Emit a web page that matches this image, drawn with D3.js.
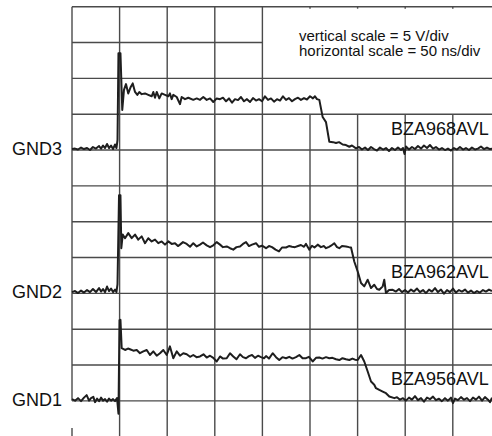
<!DOCTYPE html>
<html>
<head>
<meta charset="utf-8">
<script src="https://cdn.jsdelivr.net/npm/d3@7"></script>
<style>
  html, body { margin: 0; padding: 0; background: #fff; }
  svg { display: block; }
  text { font-family: "Liberation Sans", Arial, Helvetica, sans-serif; fill: #111; }
</style>
</head>
<body>
<svg id="chart" width="492" height="436"></svg>
<script>
// ---- data (time in ns, voltage in V relative to each trace's ground) ----
const timeTicks = [0, 50, 100, 150, 200, 250, 300, 350, 400, 450];
const voltTicks = [-5, 0, 5, 10, 15, 20, 25, 30, 35, 40, 45, 50, 55];
const groundLabels = ["GND1", "GND2", "GND3"];
const deviceLabels = ["BZA956AVL", "BZA962AVL", "BZA968AVL"];
const groundOffsets = [0, 15, 35];   // V (3 and 7 divisions of 5 V)
const scaleNotes = ["vertical scale = 5 V/div", "horizontal scale = 50 ns/div"];

const traceGND3 = [
 [0,0.14],[3.2,0.2],[6.3,0.07],[9.5,0.35],[12.6,0.14],[15.8,0.28],[18.9,0],[22,0.42],[25.2,0.2],[28.4,0.56],
 [30.5,0.2],[32.6,0.63],[34.7,0.28],[36.8,0.84],[38.9,0.28],[41,0.63],[43.1,0.14],[45.2,0.77],[46.7,0.28],
 [47.8,1.4],[48.8,13.5],[50.9,13.5],[52.8,5.6],[54.6,8.4],[56.7,9.2],[59.1,7.9],[61.7,8.8],[63.8,9.3],[66.2,8.1],
 [68.6,7.7],[70.7,8.1],[73.2,7.8],[76.7,7.9],[80.1,7.7],[83.7,7.5],[85.4,8.1],[87.2,7.3],[89,8.1],[91.7,7.2],
 [94.2,7.9],[97.7,7.7],[101.2,7.5],[102.9,7.9],[104.7,7.1],[106.4,7.7],[110,7.4],[113.4,6.4],[115.2,7.4],
 [118.7,7.1],[122.2,7.3],[127.4,7.0],[131,7.2],[134.5,7.0],[137.9,7.4],[141.5,7.0],[145,7.2],[148.4,6.7],
 [152,7.2],[155.5,7.1],[158.6,7.3],[161.8,6.8],[164.9,7.2],[168.1,6.6],[171.2,7.1],[174.4,6.97],[177.5,7.4],
 [180.7,6.8],[183.8,7.1],[187,6.7],[190.1,7.25],[193.3,6.9],[196.4,7.1],[199.6,6.8],[202.7,7.5],[205.9,7.0],
 [209,7.2],[212.2,6.75],[215.3,7.1],[218.5,6.9],[221.6,7.5],[224.8,7.0],[227.9,7.25],[231.1,6.8],[234.2,7.1],
 [237.4,7.3],[240.5,7.0],[243.7,7.25],[246.8,7.05],[250,7.5],[253.1,7.2],[255.2,7.5],[257.3,7.1],[259.8,7.0],
 [263.3,4.6],[266.8,3.9],[270.3,1.16],[274.2,1.1],[277.3,0.98],[280.5,1.1],[284.3,0.77],[287.8,0.7],[291.3,0.46],
 [294.1,0.63],[298.3,0.24],[301.5,0.42],[304.6,0.07],[307.8,0.35],[310.9,0],[314.1,0.42],[317.2,0.14],
 [320.4,-0.07],[323.5,0.35],[326.7,0.07],[329.8,0.28],[333,-0.14],[336.1,0.28],[339.3,0],[342.4,0.35],
 [345.6,0],[347.7,0.28],[349.3,-0.56],[350.8,0.49],[354,0.07],[357.1,0.42],[360.3,0.14],[363.4,0.56],
 [366.6,0.2],[369.7,0.63],[372.9,0.28],[376,0.7],[379.2,0.2],[382.3,0.42],[385.5,0.07],[388.6,0.28],[391.8,0],
 [394.9,0.2],[398.1,-0.07],[401.2,0.28],[404.4,0.07],[407.5,0.42],[410.7,0.07],[413.8,0.28],[417,0],
 [420.1,0.35],[423.3,0.07],[426.4,0.2],[429.6,0.49],[432.7,0.14],[435.9,0.35],[439,0.14],[442.2,0.2]
];

const traceGND2 = [
 [0,0.18],[3.2,0.32],[6.3,0.04],[9.5,0.39],[12.6,0.11],[15.8,0.46],[18.9,0.18],[22,0.6],[25.2,0.18],[28.4,0.74],
 [30.5,0.25],[32.6,0.6],[34.7,0.18],[36.8,0.95],[38.9,0.32],[41,0.67],[43.1,0.18],[45.2,0.53],[46.7,0.18],
 [47.8,1.3],[49.4,13.7],[50.9,13.7],[51.8,6.3],[53.3,8.2],[55.7,7.7],[59.1,8.4],[62.7,7.7],[66.2,8.2],[69.6,7.5],
 [73.2,7.95],[76.7,7.0],[80.1,7.7],[83.7,7.25],[87.2,7.5],[90.6,7.0],[94.2,7.25],[97.7,6.8],[101.2,7.25],
 [104.7,6.9],[108.2,7.0],[111.3,6.6],[113.4,6.8],[116.6,7.15],[120.5,6.9],[124,6.5],[127.4,7.0],[131,6.55],
 [134.5,6.8],[137.6,7.1],[141.5,6.7],[145,6.45],[148.4,6.7],[152,7.15],[155.5,6.8],[158.6,6.45],[162.5,6.55],
 [166,6.3],[169.4,6.1],[172.8,6.45],[176.5,6.55],[179.6,6.9],[182.8,7.15],[185.9,6.6],[189.1,6.8],[193.3,7.0],
 [196.4,6.5],[199.6,6.65],[203.8,6.3],[206.9,6.6],[210.1,6.45],[213.8,6.1],[217.4,5.85],[220.6,6.4],[224.8,6.4],
 [227.9,6.6],[231.1,6.5],[234.2,6.45],[237.4,6.6],[240.5,6.75],[243.7,6.5],[245.8,6.9],[249.3,6.1],[252.1,6.65],
 [254.7,6.4],[258.1,6.8],[261.5,6.45],[264.7,6.6],[266.8,6.3],[270,6.5],[272.1,6.65],[275.5,7.0],[278.4,6.45],
 [280.8,6.3],[283.6,6.6],[287.8,6.55],[291,6.45],[293.1,6.4],[296.5,4.45],[300.1,3.05],[303.6,1.45],[307,0.98],
 [310.6,1.9],[314.1,0.74],[317.5,1.2],[320.4,0.6],[322.8,0.5],[326.4,0.98],[328,1.9],[329.8,0.04],[333,0.46],
 [336.9,0.5],[340.3,0.25],[343.5,0.6],[346.6,0.18],[349.8,0.46],[352.9,0.11],[356.1,0.53],[359.2,0.25],
 [362.4,0.67],[365.5,0.18],[368.7,0.46],[371.8,0.04],[375,0.53],[378.1,0.25],[381.3,0.74],[384.4,0.18],
 [387.6,0.53],[390.7,-0.03],[393.9,0.46],[397,0.18],[400.2,0.67],[403.3,0.11],[406.5,0.46],[409.6,0.25],
 [412.8,0.53],[415.9,0.11],[419.1,0.39],[422.2,0.04],[425.4,0.32],[428.5,0.11],[431.7,0.46],[434.8,0.25],
 [438,0.53],[441.1,0.32]
];

const traceGND1 = [
 [0,0.24],[3.2,0.03],[6.3,0.38],[9.5,-0.04],[12.6,0.45],[15.4,0.8],[17.9,0.03],[20,0.38],[22.4,0.56],[24.2,-0.18],
 [26.3,0.31],[28.4,-0.04],[30.5,0.45],[32.6,0.03],[34.7,0.24],[36.8,-0.11],[38.9,0.31],[41,0.03],[43.1,0.24],
 [45.2,-0.04],[47.3,0.38],[48.8,-1.8],[49.9,11.25],[50.9,11.3],[52.2,7.35],[55.7,7.1],[58.8,7.3],[60.9,7.2],
 [64.4,7.0],[68,7.1],[71.4,6.65],[74.9,6.9],[78.5,7.1],[81.9,6.4],[85.4,6.9],[89,6.3],[92.4,6.65],[95.9,7.1],
 [99.5,6.4],[102.9,7.6],[106.4,5.95],[110,6.9],[113.4,6.3],[116.9,6.65],[120.5,6.5],[124,6.15],[127.4,6.4],
 [130.8,6.1],[134.5,6.2],[138.1,6.5],[141.5,6.05],[145,6.3],[148.4,6.0],[152,5.5],[155.5,6.2],[158.6,5.9],
 [162.5,5.95],[166,6.65],[169.4,6.2],[172.8,5.8],[176.5,6.5],[179.6,6.1],[182.8,5.95],[185.9,6.25],[189.1,6.4],
 [192.2,6.0],[195.4,6.3],[198.5,6.1],[201.7,5.95],[203.8,6.25],[206.9,5.9],[210.8,6.65],[214.3,6.1],[217.7,5.7],
 [221.1,6.1],[224.8,5.95],[228.2,6.15],[231.6,5.9],[235.3,6.1],[238.8,6.4],[242.2,5.95],[245.8,5.95],[248.9,6.15],
 [252.8,5.5],[256.3,6.0],[259.8,6.05],[263.1,5.9],[266.8,6.1],[270.3,5.95],[273.6,6.0],[277.3,5.8],[280.8,5.7],
 [284.1,5.95],[287.8,5.8],[291.3,5.7],[294.6,5.9],[297.3,5.75],[300.1,5.7],[303.6,6.4],[307,5.5],[310.6,4.1],
 [314.1,2.7],[317.5,2.25],[319.3,1.77],[322.8,1.53],[326.4,1.3],[329.8,1.07],[333.3,0.6],[338.6,0.38],
 [341.4,0.52],[344.5,0.17],[347.7,0.38],[350.8,0.03],[354,0.45],[357.1,0.17],[360.3,0.66],[363.4,0.1],
 [366.6,0.38],[369.7,-0.11],[372.9,0.45],[376,0.24],[379.2,0.59],[382.3,0.1],[385.5,0.31],[388.6,-0.04],
 [391.8,0.38],[394.9,0.03],[398.1,0.45],[400.2,-0.32],[402.3,0.31],[405.4,0.1],[408.6,0.52],[411.8,0.17],
 [414.9,0.38],[418.1,-0.04],[421.2,0.45],[424.4,0.17],[427.5,0.59],[430.7,0.03],[433.8,0.52],[437,0.17],
 [439.1,-0.18],[441.2,0.45]
];

const traces = [traceGND1, traceGND2, traceGND3];

// ---- drawing ----
const svg = d3.select("#chart");
const x = d3.scaleLinear().domain([0, 450]).range([72, 500.4]);
const y = d3.scaleLinear().domain([-5, 55]).range([436.7, 6.7]);

const grid = svg.append("g")
  .attr("stroke", "#4a4a4a")
  .attr("stroke-width", 1.4)
  .attr("fill", "none");

// horizontal grid lines
voltTicks.forEach(v => {
  let x1 = x(0), x2 = 492;
  if (v === 50) x2 = x(200);            // cut by the note box
  grid.append("line")
    .attr("x1", x1).attr("x2", x2)
    .attr("y1", y(v)).attr("y2", y(v));
});

// vertical grid lines
timeTicks.forEach(t => {
  if (t === 0) {
    grid.append("line").attr("x1", x(t)).attr("x2", x(t)).attr("y1", y(55)).attr("y2", y(0));
    grid.append("line").attr("x1", x(t)).attr("x2", x(t)).attr("y1", y(-3.8)).attr("y2", y(-5));
    return;
  }
  let top = y(55);
  if (t > 200) {
    top = y(40);                        // below the note box
    grid.append("line").attr("x1", x(t)).attr("x2", x(t))
      .attr("y1", y(55)).attr("y2", y(55) + 2);
  }
  grid.append("line")
    .attr("x1", x(t)).attr("x2", x(t))
    .attr("y1", top).attr("y2", y(-5));
});

// traces
const line = d3.line()
  .x(d => x(d[0]))
  .y(d => y(d[1]));

traces.forEach((tr, i) => {
  const off = groundOffsets[i];
  svg.append("path")
    .datum(tr.map(d => [d[0], d[1] + off]))
    .attr("d", line)
    .attr("fill", "none")
    .attr("stroke", "#1e1e1e")
    .attr("stroke-width", 2)
    .attr("stroke-linejoin", "round");
});

// ground labels
groundLabels.forEach((lab, i) => {
  svg.append("text")
    .attr("x", 62).attr("y", y(groundOffsets[i]) + 5)
    .attr("text-anchor", "end")
    .attr("font-size", 18)
    .text(lab);
});

// device labels
deviceLabels.forEach((lab, i) => {
  svg.append("text")
    .attr("x", 391).attr("y", y(groundOffsets[i]) - 15.5)
    .attr("font-size", 18)
    .text(lab);
});

// scale notes
scaleNotes.forEach((s, i) => {
  svg.append("text")
    .attr("x", 299).attr("y", 40.5 + i * 15.5)
    .attr("font-size", 15)
    .text(s);
});
</script>
</body>
</html>
